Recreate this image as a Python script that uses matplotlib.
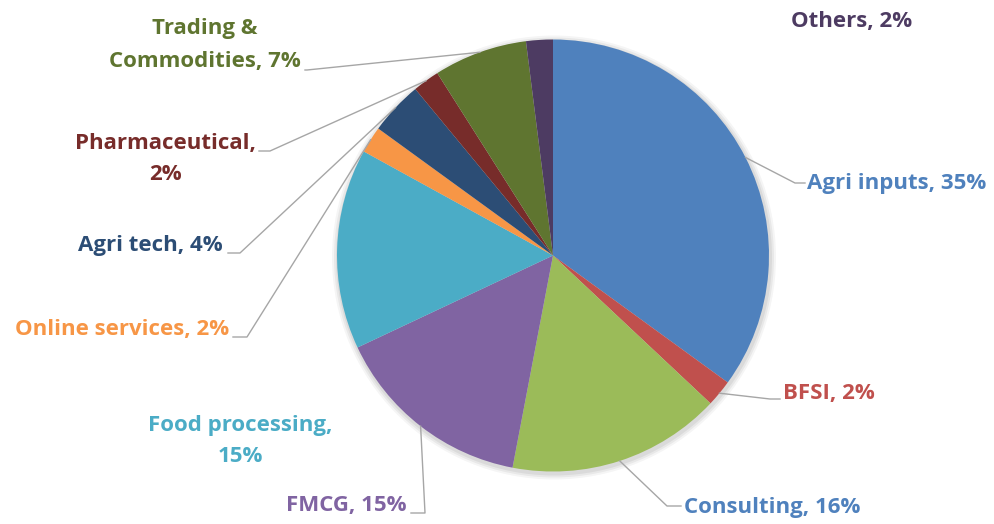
import numpy as np
import matplotlib.pyplot as plt

# sector shares (%), clockwise from 12 o'clock
sectors = ["Agri inputs", "BFSI", "Consulting", "FMCG", "Food processing",
           "Online services", "Agri tech", "Pharmaceutical",
           "Trading & Commodities", "Others"]
shares = [35, 2, 16, 15, 15, 2, 4, 2, 7, 2]
labels = ["Agri inputs, 35%", "BFSI, 2%", "Consulting, 16%", "FMCG, 15%",
          "Food processing,\n15%", "Online services, 2%", "Agri tech, 4%",
          "Pharmaceutical,\n2%", "Trading &\nCommodities, 7%", "Others, 2%"]

colors = ["#4F81BD", "#C0504D", "#9BBB59", "#8064A2", "#4BACC6",
          "#F79646", "#2C4D75", "#772C2A", "#5F7530", "#4D3B62"]
text_colors = ["#4F81BD", "#C0504D", "#4F81BD", "#8064A2", "#4BACC6",
               "#F79646", "#2C4D75", "#772C2A", "#5F7530", "#4D3B62"]

W, H = 995, 524
fig = plt.figure(figsize=(W / 100, H / 100), dpi=100)
ax = fig.add_axes([0, 0, 1, 1])

cx, cy, r = 553, H - 255.5, 216

# soft shadow
for k, a in zip([6, 4, 2], [0.04, 0.05, 0.06]):
    ax.add_patch(plt.Circle((cx + 1, cy - 2), r + k, color="black", alpha=a, lw=0))

wedges, _ = ax.pie(shares, colors=colors, startangle=90, counterclock=False,
                   center=(cx, cy), radius=r, frame=True,
                   wedgeprops=dict(linewidth=0))
ax.set_xlim(0, W)
ax.set_ylim(0, H)
ax.set_aspect("equal")
ax.axis("off")

# label layout in pixel coords (top-left origin): text x, text y, ha, elbow, line end, spacing
layout = [
    (807, 183, "left",   (795, 183), (805, 183), 1.6),
    (783, 393, "left",   (770, 399), (780, 399), 1.6),
    (684, 508, "left",   (667, 506), (681, 506), 1.6),
    (407, 505, "right",  (425, 513), (411, 513), 1.6),
    (240, 441, "center", None, None, 1.6),
    (229, 329, "right",  (247, 337), (233, 337), 1.6),
    (223, 245, "right",  (240, 253), (228, 253), 1.6),
    (256, 159, "right",  (270, 151), (259, 151), 1.6),
    (301, 45,  "right",  (307, 70),  (305, 70), 1.75),
    (852, 22,  "center", None, None, 1.6),
]

for w, lab, tc, (tx, ty, ha, elbow, end, ls) in zip(wedges, labels, text_colors, layout):
    ang = np.deg2rad((w.theta1 + w.theta2) / 2)
    if elbow is not None:
        px, py = cx + r * np.cos(ang), cy + r * np.sin(ang)
        ax.plot([px, elbow[0], end[0]], [py, H - elbow[1], H - end[1]],
                color="#A6A6A6", lw=1.0, zorder=1)
    ax.text(tx, H - ty, lab, ha=ha, va="center", color=tc, fontsize=16,
            fontweight="bold", family="Open Sans", linespacing=ls,
            multialignment="center")

fig.savefig("out.png", dpi=100)
